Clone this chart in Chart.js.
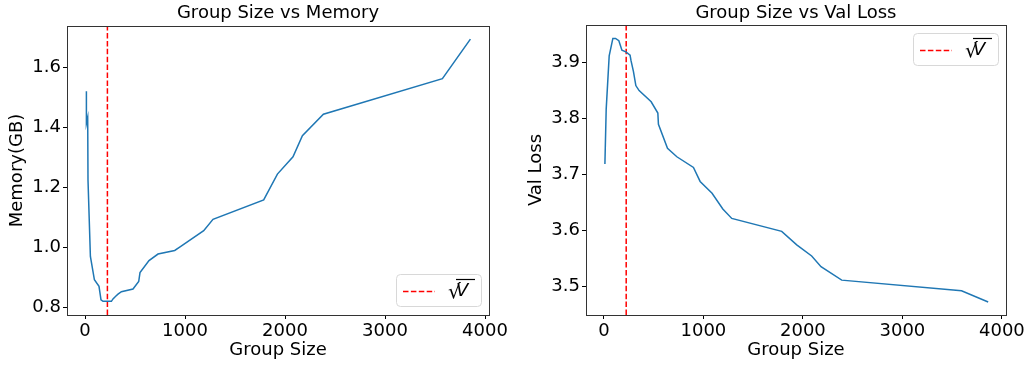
<!DOCTYPE html>
<html>
<head>
<meta charset="utf-8">
<script src="https://cdn.jsdelivr.net/npm/chart.js@4"></script>
<style>
  body { margin: 0; background: #fff; }
  #wrap { position: relative; width: 1027px; height: 365px; }
  canvas { position: absolute; top: 0; }
</style>
</head>
<body>
<div id="wrap">
  <canvas id="memChart" width="513" height="365" style="left:0"></canvas>
  <canvas id="lossChart" width="514" height="365" style="left:513px"></canvas>
</div>
<script>
// group size vs memory (GB)
const memGroupSizes = [14, 14, 27, 30, 54, 94, 140, 160, 180, 264, 280, 307, 330, 364, 480, 537, 550, 640, 730, 897, 947, 1187, 1280, 1787, 1924, 2080, 2174, 2384, 3574, 3854];
const memValues = [1.521, 1.413, 1.433, 1.224, 0.969, 0.891, 0.869, 0.824, 0.819, 0.819, 0.827, 0.836, 0.843, 0.851, 0.860, 0.885, 0.915, 0.955, 0.977, 0.989, 1.000, 1.055, 1.093, 1.158, 1.244, 1.302, 1.372, 1.444, 1.563, 1.695];

// group size vs val loss
const lossGroupSizes = [10, 23, 53, 90, 117, 150, 181, 221, 263, 273, 297, 321, 354, 475, 542, 548, 639, 733, 900, 967, 1087, 1195, 1285, 1787, 1938, 2088, 2182, 2390, 3594, 3862];
const lossValues = [3.718, 3.816, 3.911, 3.942, 3.942, 3.938, 3.921, 3.918, 3.912, 3.902, 3.883, 3.858, 3.849, 3.829, 3.809, 3.789, 3.746, 3.731, 3.712, 3.687, 3.666, 3.638, 3.621, 3.598, 3.574, 3.554, 3.535, 3.511, 3.492, 3.472];

const sqrtV = 224; // sqrt of vocab size
const xTicks = [0, 1000, 2000, 3000, 4000];
const memTicks = [0.8, 1.0, 1.2, 1.4, 1.6];
const lossTicks = [3.5, 3.6, 3.7, 3.8, 3.9];

const FONT = 'DejaVu Sans';
const FS = 18;
const BLUE = '#1f77b4';
Chart.defaults.font.family = FONT;
Chart.defaults.color = '#000';

// full box around the plot like matplotlib
const frame = {
  id: 'frame',
  afterDraw(chart) {
    const a = chart.chartArea, ctx = chart.ctx;
    ctx.save();
    ctx.strokeStyle = '#333';
    ctx.lineWidth = 1;
    ctx.strokeRect(Math.round(a.left) + 0.5, Math.round(a.top) + 0.5, Math.round(a.right - a.left), Math.round(a.bottom - a.top));
    ctx.restore();
  }
};

// title centred over the plot area (matplotlib style)
const plotTitle = {
  id: 'plotTitle',
  afterDraw(chart, args, opts) {
    const a = chart.chartArea, ctx = chart.ctx;
    ctx.save();
    ctx.fillStyle = '#000';
    ctx.font = FS + 'px ' + FONT;
    ctx.textAlign = 'center';
    ctx.textBaseline = 'middle';
    ctx.fillText(opts.text, (a.left + a.right) / 2, 13.5);
    ctx.restore();
  }
};

// legend box with dashed red sample and sqrt(V)
const sqrtLegend = {
  id: 'sqrtLegend',
  afterDraw(chart, args, opts) {
    const a = chart.chartArea, ctx = chart.ctx;
    const w = 85, h = 32;
    const x = Math.round(a.right) - 8 - w;
    const y = opts.corner === 'top' ? Math.round(a.top) + 8 : Math.round(a.bottom) - 9 - h;
    ctx.save();
    ctx.fillStyle = 'rgba(255,255,255,0.8)';
    ctx.strokeStyle = '#d8d8d8';
    ctx.lineWidth = 1;
    ctx.beginPath();
    ctx.roundRect(x + 0.5, y + 0.5, w, h, 4);
    ctx.fill();
    ctx.stroke();
    ctx.strokeStyle = 'red';
    ctx.lineWidth = 1.5;
    ctx.setLineDash([5.5, 2.4]);
    ctx.beginPath();
    ctx.moveTo(x + 7, y + 17.5);
    ctx.lineTo(x + 39, y + 17.5);
    ctx.stroke();
    ctx.setLineDash([]);
    ctx.fillStyle = '#000';
    ctx.strokeStyle = '#000';
    ctx.textBaseline = 'alphabetic';
    ctx.font = '20px ' + FONT;
    ctx.fillText('\u221A', x + 52, y + 24);
    ctx.font = 'italic 18px ' + FONT;
    ctx.fillText('V', x + 60, y + 22);
    ctx.lineWidth = 1.2;
    ctx.beginPath();
    ctx.moveTo(x + 60, y + 5.5);
    ctx.lineTo(x + 79, y + 5.5);
    ctx.stroke();
    ctx.restore();
  }
};

function makeChart(id, cfg) {
  const points = cfg.xs.map((x, i) => ({ x: x, y: cfg.ys[i] }));
  return new Chart(document.getElementById(id), {
    type: 'line',
    data: {
      datasets: [
        {
          data: points,
          borderColor: BLUE,
          borderWidth: 1.5,
          pointRadius: 0,
          tension: 0
        },
        {
          data: [{ x: sqrtV, y: cfg.yMin }, { x: sqrtV, y: cfg.yMax }],
          borderColor: 'red',
          borderWidth: 1.5,
          borderDash: [5.5, 2.4],
          pointRadius: 0
        }
      ]
    },
    options: {
      responsive: false,
      animation: false,
      devicePixelRatio: 1,
      layout: { padding: { left: 0, right: cfg.padRight, top: cfg.topGap, bottom: 0 } },
      plugins: {
        legend: { display: false },
        tooltip: { enabled: false },
        title: { display: false },
        plotTitle: { text: cfg.title },
        sqrtLegend: { corner: cfg.legendCorner }
      },
      scales: {
        x: {
          type: 'linear',
          min: -180,
          max: 4040,
          afterBuildTicks: s => { s.ticks = xTicks.map(v => ({ value: v })); },
          afterFit: s => { s.height = 50; },
          grid: { drawOnChartArea: false, drawTicks: true, tickLength: 4, color: '#000' },
          border: { display: false },
          ticks: { font: { size: FS }, padding: 2, maxRotation: 0, callback: v => String(v) },
          title: { display: true, text: 'Group Size', font: { size: FS }, padding: { top: 0, bottom: 4 } }
        },
        y: {
          min: cfg.yMin,
          max: cfg.yMax,
          afterBuildTicks: s => { s.ticks = cfg.yTicks.map(v => ({ value: v })); },
          afterFit: s => { s.width = cfg.axisWidth; },
          grid: { drawOnChartArea: false, drawTicks: true, tickLength: 4, color: '#000' },
          border: { display: false },
          ticks: { font: { size: FS }, padding: 2, callback: v => v.toFixed(1) },
          title: { display: true, text: cfg.yLabel, font: { size: FS }, padding: { top: cfg.yTitlePad, bottom: 0 } }
        }
      }
    },
    plugins: [frame, plotTitle, sqrtLegend]
  });
}

makeChart('memChart', {
  xs: memGroupSizes, ys: memValues,
  title: 'Group Size vs Memory', yLabel: 'Memory(GB)',
  yMin: 0.7733, yMax: 1.7387, yTicks: memTicks,
  axisWidth: 67, padRight: 24, topGap: 26, yTitlePad: 7,
  legendCorner: 'bottom'
});

makeChart('lossChart', {
  xs: lossGroupSizes, ys: lossValues,
  title: 'Group Size vs Val Loss', yLabel: 'Val Loss',
  yMin: 3.4488, yMax: 3.966, yTicks: lossTicks,
  axisWidth: 73, padRight: 20, topGap: 25, yTitlePad: 13,
  legendCorner: 'top'
});
</script>
</body>
</html>
